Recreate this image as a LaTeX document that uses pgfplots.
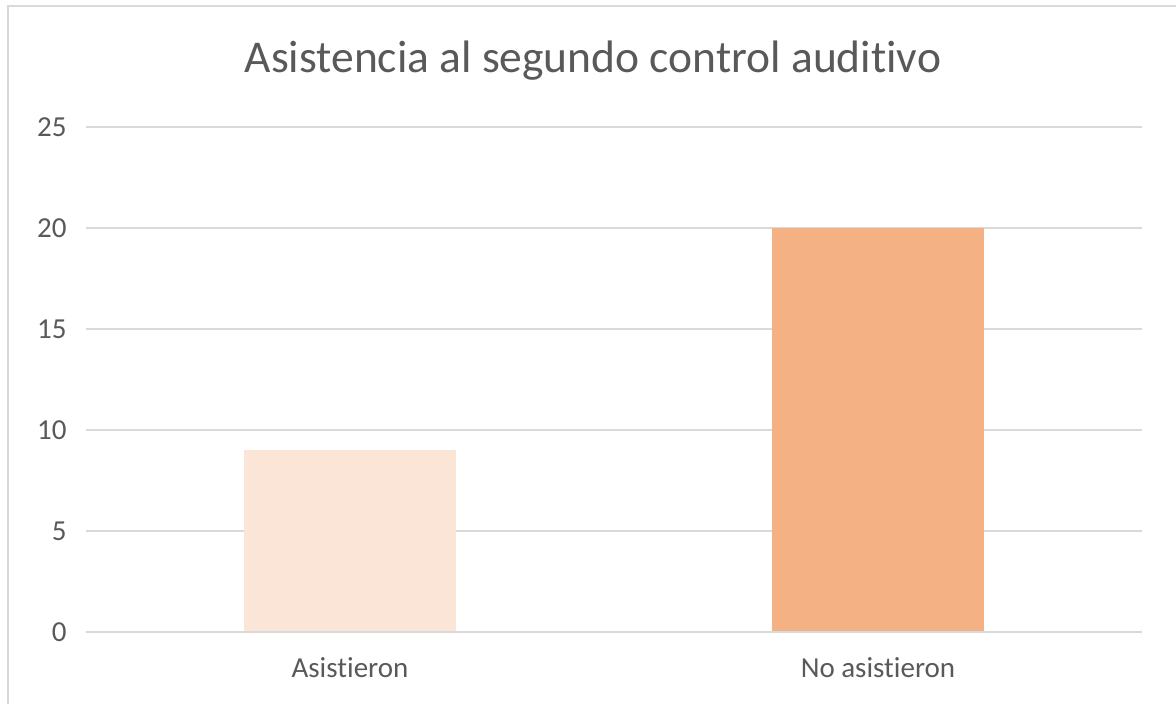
\documentclass[border=0pt]{standalone}
\usepackage{pgfplots}
\pgfplotsset{compat=1.18}
\usepackage{fontspec}
\setmainfont{Carlito}[Ligatures=NoCommon]
\definecolor{gridc}{HTML}{D9D9D9}
\definecolor{txt}{HTML}{595959}
\definecolor{barA}{HTML}{FBE5D6}
\definecolor{barB}{HTML}{F4B183}
\begin{document}
\begin{tikzpicture}[x=1pt,y=1pt]
\useasboundingbox (0,0) rectangle (1176,704);
\draw[gridc, line width=2.5pt] (8,-5) -- (8,698) -- (1180,698);
\node[txt, font=\fontsize{45.5}{52}\selectfont] at (593,643) {Asistencia al segundo control auditivo};
\begin{axis}[
  at={(86pt,72pt)}, anchor=south west,
  scale only axis, width=1056pt, height=505pt,
  xmin=-0.5, xmax=1.5, ymin=0, ymax=25,
  xtick={0,1}, xticklabels={Asistieron,No asistieron},
  ytick={0,5,10,15,20,25},
  ymajorgrids, major grid style={gridc, line width=1.8pt},
  axis line style={draw=none},
  axis x line*=bottom,
  x axis line style={gridc, line width=1.8pt},
  major tick length=0pt,
  tick label style={txt, font=\fontsize{29}{34}\selectfont},
  /pgf/number format/assume math mode=true,
  yticklabel style={xshift=-16pt},
  xticklabel style={yshift=-22pt},
  clip=false,
]
\addplot[ybar, bar width=0.4, fill=barA, draw=none, bar shift=0pt] coordinates {(0,9)};
\addplot[ybar, bar width=0.4, fill=barB, draw=none, bar shift=0pt] coordinates {(1,20)};
\draw[gridc, line width=1.8pt] (axis cs:-0.5,0) -- (axis cs:1.5,0);
\end{axis}
\end{tikzpicture}
\end{document}
